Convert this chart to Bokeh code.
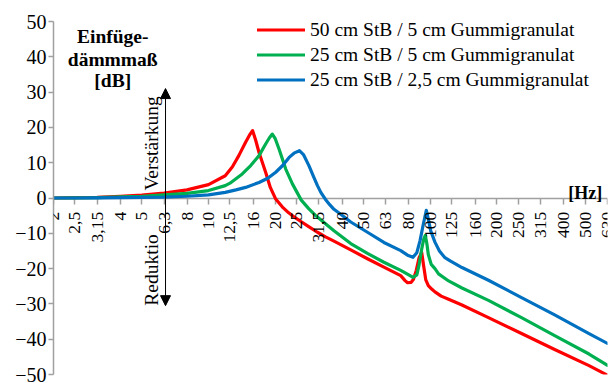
import math
from bokeh.plotting import figure
from bokeh.models import (Range1d, LogAxis, FixedTicker, Legend, LegendItem,
                          Label, Arrow, NormalHead)
from bokeh.embed import file_html
from bokeh.resources import INLINE

# ---------------- data ----------------
x_ticks = [2, 2.5, 3.15, 4, 5, 6.3, 8, 10, 12.5, 16, 20, 25, 31.5, 40, 50, 63,
           80, 100, 125, 160, 200, 250, 315, 400, 500, 630]
x_labels = ["2", "2,5", "3,15", "4", "5", "6,3", "8", "10", "12,5", "16", "20",
            "25", "31,5", "40", "50", "63", "80", "100", "125", "160", "200",
            "250", "315", "400", "500", "630"]
y_ticks = [-50, -40, -30, -20, -10, 0, 10, 20, 30, 40, 50]

series_names = ["50 cm StB / 5 cm Gummigranulat",
                "25 cm StB / 5 cm Gummigranulat",
                "25 cm StB / 2,5 cm Gummigranulat"]

red_f = [2, 2.5, 3.15, 4, 5, 6.3, 8, 10, 11.9, 12.8, 13.7, 14.7, 15.3, 15.8,
         16.3, 16.9, 18.1, 19.0, 20.1, 21.5, 23.0, 24.5, 26.0, 28.3, 31.0,
         33.7, 36.8, 43.8, 52.1, 61.8, 73.6, 77, 79, 82, 84, 86.5, 89, 91.5,
         93.5, 95.5, 98, 101.5, 105, 112, 121, 139, 183, 258, 364, 520, 630]
red_db = [0.0, 0.1, 0.2, 0.5, 0.8, 1.4, 2.3, 3.8, 6.3, 8.8, 12.0, 15.8, 17.8,
          19.1, 16.5, 12.9, 7.3, 3.0, -0.3, -2.5, -4.2, -5.5, -6.6, -8.1,
          -9.7, -11.0, -12.2, -14.7, -17.2, -19.6, -22.0, -23.4, -24.0, -23.9,
          -23.0, -20.5, -17.0, -15.4, -19.5, -23.2, -24.8, -25.8, -26.6,
          -27.8, -28.7, -30.3, -33.9, -38.4, -42.9, -47.5, -50.2]

green_f = [2, 2.5, 3.15, 4, 5, 6.3, 8, 10, 11.9, 12.5, 14.2, 15.5, 16.9, 18.1,
           18.8, 19.4, 20.0, 20.8, 22.3, 23.9, 26.2, 28.3, 30.7, 33.7, 36.8,
           43.8, 52.1, 61.8, 73.6, 80, 83.6, 87, 89, 91.5, 93.5, 95, 96.5, 98,
           101, 105, 109, 121, 139, 183, 258, 364, 520, 630]
green_db = [0.0, 0.05, 0.1, 0.3, 0.5, 0.9, 1.3, 2.1, 3.5, 4.2, 6.8, 9.2, 12.0,
            15.3, 17.0, 18.1, 16.8, 13.9, 8.2, 4.0, -0.6, -3.0, -5.2, -7.3,
            -9.3, -12.9, -15.7, -18.2, -20.5, -21.8, -22.5, -21.8, -19.0,
            -14.5, -11.6, -10.6, -12.8, -16.0, -18.8, -20.0, -21.5, -23.5,
            -25.5, -29.0, -33.9, -39.0, -44.2, -47.4]

blue_f = [2, 2.5, 3.15, 4, 5, 6.3, 8, 10, 11.9, 13.3, 14.7, 16.9, 18.5, 20.1,
          21.6, 23.1, 24.3, 25.7, 26.8, 28.4, 29.7, 31.0, 32.1, 33.7, 35.2,
          36.8, 40, 43.8, 52.1, 61.8, 73.6, 79, 83.6, 87, 90, 93, 96, 98,
          100.5, 105, 110, 116, 123, 139, 183, 258, 364, 520, 630]
blue_db = [0.0, 0.0, 0.05, 0.1, 0.15, 0.25, 0.5, 0.9, 1.6, 2.3, 3.0, 4.4, 5.6,
           7.3, 9.2, 11.5, 12.7, 13.4, 12.3, 9.1, 6.2, 3.5, 1.6, -0.4, -1.9,
           -3.2, -4.9, -6.8, -9.7, -12.6, -14.9, -16.2, -16.8, -15.5, -12.0,
           -7.5, -3.5, -6.0, -9.3, -12.5, -15.0, -16.8, -17.8, -19.7, -23.3,
           -28.2, -33.1, -38.4, -41.2]

colors = ["#FF0000", "#00B050", "#0070C0"]

FONT = "Liberation Serif"

# ---------------- figure ----------------
p = figure(width=614, height=383, x_axis_type="log", x_axis_location=None,
           x_range=Range1d(2, 630), y_range=Range1d(-50, 50),
           output_backend="svg", toolbar_location=None,
           min_border_left=53, min_border_right=7, min_border_top=21,
           min_border_bottom=9)
p.outline_line_color = None
p.grid.visible = False
p.background_fill_color = "white"

# y axis
ya = p.yaxis[0]
ya.ticker = FixedTicker(ticks=y_ticks)
ya.axis_line_color = "#A0A0A0"
ya.axis_line_width = 1.5
ya.major_tick_line_color = "#A0A0A0"
ya.major_tick_line_width = 1.5
ya.major_tick_in = 0
ya.major_tick_out = 5
ya.minor_tick_line_color = None
ya.major_label_text_font = FONT
ya.major_label_text_font_size = "20px"
ya.major_label_text_color = "black"
ya.major_label_standoff = 2

# x axis line and ticks through y = 0 (labels drawn as rotated labels below)
xa = LogAxis(ticker=FixedTicker(ticks=x_ticks), fixed_location=0)
xa.axis_line_color = "#A0A0A0"
xa.axis_line_width = 1.5
xa.major_tick_line_color = "#A0A0A0"
xa.major_tick_line_width = 1.5
xa.major_tick_in = 0
xa.major_tick_out = 6
xa.minor_tick_line_color = None
xa.major_label_text_color = None
xa.major_label_text_font_size = "0px"
xa.level = "underlay"
p.add_layout(xa, "below")

# rotated tick labels (reading bottom to top), hanging below the zero line
for t, s in zip(x_ticks, x_labels):
    p.add_layout(Label(x=t, y=-3.9, text=s, angle=math.pi / 2,
                       text_align="right", text_baseline="middle",
                       text_font=FONT, text_font_size="17.5px", text_color="black"))

# curves
renderers = []
for fx, dy, c in zip([red_f, green_f, blue_f], [red_db, green_db, blue_db], colors):
    r = p.line(fx, dy, line_color=c, line_width=3.2, line_join="round", line_cap="round")
    renderers.append(r)

legend = Legend(items=[LegendItem(label=n, renderers=[r]) for n, r in zip(series_names, renderers)],
                location=(204, 282), orientation="vertical",
                glyph_width=48, glyph_height=25, label_height=25, spacing=0,
                padding=0, margin=0, label_standoff=5,
                border_line_color=None, background_fill_alpha=0,
                label_text_font=FONT, label_text_font_size="19.5px",
                label_text_color="black")
p.add_layout(legend)

# annotations
for txt, yy in [("Einfüge-", 45.8), ("dämmmaß", 39.1), ("[dB]", 33.4)]:
    p.add_layout(Label(x=3.7, y=yy, text=txt, text_font=FONT, text_font_size="19.5px",
                       text_font_style="bold", text_align="center",
                       text_baseline="alphabetic", text_color="black"))

p.add_layout(Label(x=5.55, y=2.1, text="Verstärkung", angle=math.pi / 2,
                   text_font=FONT, text_font_size="19.5px", text_align="left",
                   text_baseline="alphabetic", text_color="black"))
p.add_layout(Label(x=5.55, y=-30.5, text="Reduktio", angle=math.pi / 2,
                   text_font=FONT, text_font_size="19.5px", text_align="left",
                   text_baseline="alphabetic", text_color="black"))
p.add_layout(Label(x=597, y=1.5, text="[Hz]", text_font=FONT, text_font_size="18px",
                   text_font_style="bold", text_align="right",
                   text_baseline="alphabetic", text_color="black"))

p.add_layout(Arrow(x_start=6.4, y_start=-30.5, x_end=6.4, y_end=31,
                   line_color="black", line_width=1,
                   start=NormalHead(size=10, fill_color="black", line_color="black"),
                   end=NormalHead(size=10, fill_color="black", line_color="black")))

open("out.html", "w").write(file_html(p, INLINE))
